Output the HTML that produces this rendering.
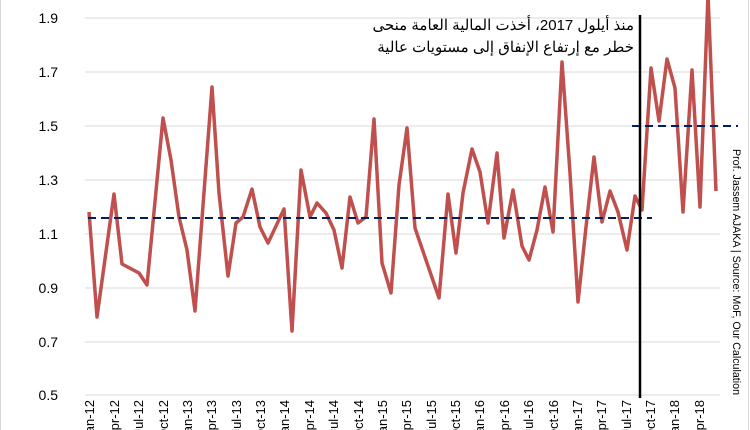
<!DOCTYPE html>
<html><head><meta charset="utf-8"><style>
body{margin:0;background:#fff;width:750px;height:430px;overflow:hidden}
svg{display:block}
text{font-family:"Liberation Sans","Noto Sans CJK SC",sans-serif;fill:#000}
</style></head><body>
<svg width="750" height="430" viewBox="0 0 750 430">
<rect x="0.5" y="-2" width="748" height="440" fill="none" stroke="#d9d9d9"/>
<g stroke="#d9d9d9" stroke-width="1">
<line x1="85" x2="720" y1="18" y2="18"/><line x1="85" x2="720" y1="72" y2="72"/>
<line x1="85" x2="720" y1="126" y2="126"/><line x1="85" x2="720" y1="180" y2="180"/>
<line x1="85" x2="720" y1="234" y2="234"/><line x1="85" x2="720" y1="288" y2="288"/>
<line x1="85" x2="720" y1="342" y2="342"/><line x1="85" x2="720" y1="395" y2="395"/>
</g>
<g font-size="14" text-anchor="end">
<text x="58" y="23">1.9</text><text x="58" y="77">1.7</text><text x="58" y="131">1.5</text>
<text x="58" y="185">1.3</text><text x="58" y="239">1.1</text><text x="58" y="293">0.9</text>
<text x="58" y="347">0.7</text><text x="58" y="400">0.5</text>
</g>
<g font-size="13" text-anchor="end">
<text transform="translate(94,400) rotate(-90)">Jan-12</text>
<text transform="translate(119,400) rotate(-90)">Apr-12</text>
<text transform="translate(143,400) rotate(-90)">Jul-12</text>
<text transform="translate(168,400) rotate(-90)">Oct-12</text>
<text transform="translate(192,400) rotate(-90)">Jan-13</text>
<text transform="translate(216,400) rotate(-90)">Apr-13</text>
<text transform="translate(241,400) rotate(-90)">Jul-13</text>
<text transform="translate(265,400) rotate(-90)">Oct-13</text>
<text transform="translate(289,400) rotate(-90)">Jan-14</text>
<text transform="translate(314,400) rotate(-90)">Apr-14</text>
<text transform="translate(338,400) rotate(-90)">Jul-14</text>
<text transform="translate(363,400) rotate(-90)">Oct-14</text>
<text transform="translate(387,400) rotate(-90)">Jan-15</text>
<text transform="translate(411,400) rotate(-90)">Apr-15</text>
<text transform="translate(436,400) rotate(-90)">Jul-15</text>
<text transform="translate(460,400) rotate(-90)">Oct-15</text>
<text transform="translate(484,400) rotate(-90)">Jan-16</text>
<text transform="translate(509,400) rotate(-90)">Apr-16</text>
<text transform="translate(533,400) rotate(-90)">Jul-16</text>
<text transform="translate(558,400) rotate(-90)">Oct-16</text>
<text transform="translate(582,400) rotate(-90)">Jan-17</text>
<text transform="translate(606,400) rotate(-90)">Apr-17</text>
<text transform="translate(631,400) rotate(-90)">Jul-17</text>
<text transform="translate(655,400) rotate(-90)">Oct-17</text>
<text transform="translate(679,400) rotate(-90)">Jan-18</text>
<text transform="translate(704,400) rotate(-90)">Apr-18</text>
</g>
<polyline fill="none" stroke="#c0504d" stroke-width="3.5" stroke-linejoin="round" points="89,212 97,317 114,194 122,264 139,273 147,285 163,118 171,160 179,217 187,250 195,311 212,87 219,193 228,276 236,223 243,217 252,189 260,227 268,243 284,209 292,331 301,170 310,217 317,203 326,213 334,230 342,268 350,197 358,223 366,217 374,119 382,263 391,293 399,185 407,128 415,228 439,298 448,194 456,253 463,193 472,149 480,172 488,223 497,153 504,238 513,190 522,246 529,260 537,230 545,187 553,232 562,62 570,173 578,302 586,227 594,157 602,222 610,191 618,212 627,250 635,196 642,210 651,68 659,121 667,59 675,88 683,212 692,70 700,207 708,-5 716,191"/>
<line x1="88" x2="652" y1="218" y2="218" stroke="#002060" stroke-width="2" stroke-dasharray="8,5"/>
<line x1="632" x2="738" y1="126" y2="126" stroke="#002060" stroke-width="2" stroke-dasharray="8,5"/>
<line x1="640" x2="640" y1="15" y2="398" stroke="#000" stroke-width="2.5"/>
<text x="634" y="30" font-size="15" direction="rtl" text-anchor="start">منذ أيلول 2017، أخذت المالية العامة منحى</text>
<text x="634" y="52" font-size="15" direction="rtl" text-anchor="start">خطر مع إرتفاع الإنفاق إلى مستويات عالية</text>
<text transform="translate(733,149) rotate(90)" font-size="11" fill="#333" textLength="246" lengthAdjust="spacingAndGlyphs">Prof. Jassem AJAKA | Source: MoF, Our Calculation</text>
</svg>
</body></html>
